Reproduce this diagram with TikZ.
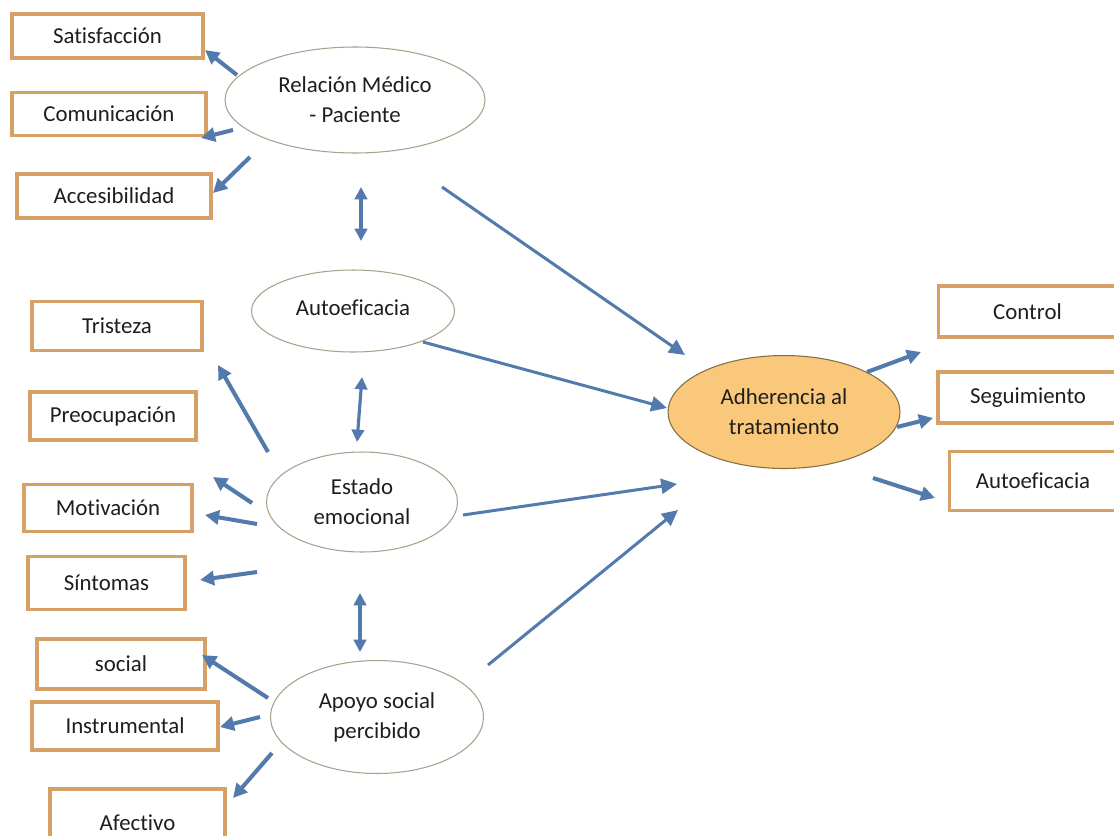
\documentclass[tikz,border=0pt]{standalone}
\usepackage{fontspec}
\setmainfont[Ligatures={NoCommon}]{Carlito}
\usetikzlibrary{arrows.meta,shapes.geometric}
\definecolor{boxc}{RGB}{214,160,102}
\definecolor{ellc}{RGB}{170,160,140}
\definecolor{arrc}{RGB}{82,122,172}
\definecolor{adhfill}{RGB}{250,200,122}
\definecolor{adhline}{RGB}{130,110,70}
\definecolor{txt}{RGB}{30,30,30}
\begin{document}
\begin{tikzpicture}[x=0.02cm,y=-0.02cm,
  every node/.style={font=\fontsize{13pt}{17pt}\selectfont, text=txt},
  box/.style={draw=boxc, line width=2.2pt, fill=white, rectangle, inner sep=0pt},
  ell/.style={draw=ellc, line width=0.6pt, fill=white, ellipse, inner sep=0pt, align=center},
  arr/.style={draw=arrc, line width=2.3pt, -{Triangle[length=8pt,width=8pt]}},
  longarr/.style={draw=arrc, line width=1.7pt, -{Triangle[length=9pt,width=8.5pt]}},
  dbl/.style={draw=arrc, line width=1.8pt, {Triangle[length=7pt,width=7pt]}-{Triangle[length=7pt,width=7pt]}}
]
\useasboundingbox (0,0) rectangle (1114,835);
\fill[white] (0,0) rectangle (1114,835);

% boxes
\node[box, minimum width=3.82cm, minimum height=0.88cm] (sat) at (107.5,36) {Satisfacción};
\node[box, minimum width=3.88cm, minimum height=0.86cm] (com) at (109,114) {Comunicación};
\node[box, minimum width=3.88cm, minimum height=0.88cm] (acc) at (114,196) {Accesibilidad};
\node[box, minimum width=3.40cm, minimum height=0.98cm] (tri) at (117,326) {Tristeza};
\node[box, minimum width=3.32cm, minimum height=0.96cm] (pre) at (113,416) {Preocupación};
\node[box, minimum width=3.36cm, minimum height=0.94cm] (mot) at (108,508) {Motivación};
\node[box, minimum width=3.14cm, minimum height=1.06cm] (sin) at (106.5,583) {Síntomas};
\node[box, minimum width=3.36cm, minimum height=1.00cm] (soc) at (121,664) {social};
\node[box, minimum width=3.72cm, minimum height=0.96cm] (ins) at (125,726) {Instrumental};
\node[box, minimum width=3.50cm, minimum height=1.36cm] (afe) at (137.5,823) {Afectivo};
\node[box, minimum width=3.56cm, minimum height=1.02cm] (con) at (1027.5,311.5) {Control};
\node[box, minimum width=3.60cm, minimum height=1.02cm] (seg) at (1028,397.5) {Seguimiento};
\node[box, minimum width=3.34cm, minimum height=1.18cm] (aut2) at (1033,481) {Autoeficacia};

% ellipses
\node[ell, minimum width=5.2cm, minimum height=2.12cm] (rel) at (355,100) {Relación Médico\\- Paciente};
\node[ell, minimum width=4.06cm, minimum height=1.64cm] (aut) at (353,311) {\raisebox{4pt}{Autoeficacia}};
\node[ell, minimum width=3.82cm, minimum height=2.0cm] (est) at (362,502) {Estado\\emocional};
\node[ell, minimum width=4.26cm, minimum height=2.26cm] (apo) at (377,717) {Apoyo social\\percibido};
\node[ell, draw=adhline, fill=adhfill, minimum width=4.64cm, minimum height=2.26cm] (adh) at (784,412) {Adherencia al\\tratamiento};

% arrow end points
\coordinate (rel-sat) at (237,75);   \coordinate (sat-e) at (205,50);
\coordinate (rel-com) at (233,130);  \coordinate (com-e) at (201,138);
\coordinate (rel-acc) at (250,157);  \coordinate (acc-e) at (213,193);
\coordinate (est-tri) at (268,452);  \coordinate (tri-e) at (218,365);
\coordinate (est-mu) at (252,503);   \coordinate (mu-e) at (213,477);
\coordinate (est-mot) at (257,524);  \coordinate (mot-e) at (205,515);
\coordinate (est-sin) at (257,572);  \coordinate (sin-e) at (200,580);
\coordinate (apo-soc) at (268,698);  \coordinate (soc-e) at (202,655);
\coordinate (apo-ins) at (260,717);  \coordinate (ins-e) at (220,727);
\coordinate (apo-afe) at (272,753);  \coordinate (afe-e) at (233,798);
\coordinate (adh-con) at (867,372);  \coordinate (con-e) at (921,352);
\coordinate (adh-seg) at (897,427);  \coordinate (seg-e) at (933,418);
\coordinate (adh-aut) at (873,478);  \coordinate (aut2-e) at (935,498);
\coordinate (rel-d) at (361,187);    \coordinate (aut-u) at (361,241);
\coordinate (aut-d) at (362,377);    \coordinate (est-u) at (357,442);
\coordinate (est-d) at (360,593);    \coordinate (apo-u) at (360,652);
\coordinate (rel-adh) at (442,187);  \coordinate (adh-r) at (685,355);
\coordinate (aut-adh) at (423,342);  \coordinate (adh-a) at (667,408);
\coordinate (est-adh) at (463,515);  \coordinate (adh-e) at (677,484);
\coordinate (apo-adh) at (488,665);  \coordinate (adh-p) at (678,510);

% arrows
\draw[arr] (rel-sat) -- (sat-e);
\draw[arr] (rel-com) -- (com-e);
\draw[arr] (rel-acc) -- (acc-e);
\draw[arr] (est-tri) -- (tri-e);
\draw[arr] (est-mu) -- (mu-e);
\draw[arr] (est-mot) -- (mot-e);
\draw[arr] (est-sin) -- (sin-e);
\draw[arr] (apo-soc) -- (soc-e);
\draw[arr] (apo-ins) -- (ins-e);
\draw[arr] (apo-afe) -- (afe-e);
\draw[arr] (adh-con) -- (con-e);
\draw[arr] (adh-seg) -- (seg-e);
\draw[arr] (adh-aut) -- (aut2-e);
\draw[dbl] (rel-d) -- (aut-u);
\draw[dbl] (aut-d) -- (est-u);
\draw[dbl] (est-d) -- (apo-u);
\draw[longarr] (rel-adh) -- (adh-r);
\draw[longarr] (aut-adh) -- (adh-a);
\draw[longarr] (est-adh) -- (adh-e);
\draw[longarr] (apo-adh) -- (adh-p);
\end{tikzpicture}
\end{document}
